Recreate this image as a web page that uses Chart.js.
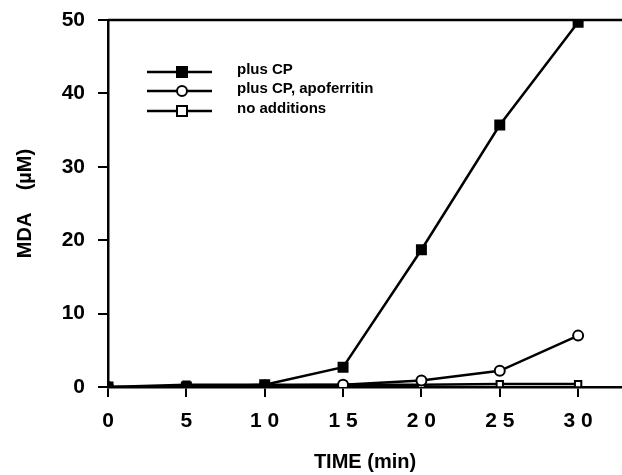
<!DOCTYPE html>
<html>
<head>
<meta charset="utf-8">
<script src="https://cdn.jsdelivr.net/npm/chart.js@4"></script>
<style>
  html, body { margin: 0; padding: 0; background: #fff; }
  #wrap { width: 622px; height: 475px; }
</style>
</head>
<body>
<div id="wrap"><canvas id="mdaCanvas" width="622" height="475"></canvas></div>
<script>
const times = [0, 5, 10, 15, 20, 25, 30]
const plusCP = [0, 0, 0.3, 2.7, 18.7, 35.7, 49.7]
const plusCPApo = [0, 0, 0.2, 0.3, 0.9, 2.2, 7.0]
const noAdditions = [0, 0.3, 0.3, 0.3, 0.3, 0.4, 0.4]
const seriesNames = ["plus CP", "plus CP, apoferritin", "no additions"]

const toPoints = (vals) => vals.map((v, i) => ({ x: times[i], y: v }))

// legend drawn inside the plot + the top frame line
const extras = {
  id: "extras",
  afterDatasetsDraw(chart) {
    const ctx = chart.ctx
    const area = chart.chartArea
    ctx.save()
    ctx.strokeStyle = "#000"
    ctx.lineWidth = 2.5
    ctx.beginPath()
    ctx.moveTo(area.left, area.top)
    ctx.lineTo(area.right, area.top)
    ctx.stroke()

    const rows = [72, 91, 111]
    chart.data.datasets.forEach((ds, i) => {
      const y = rows[i]
      ctx.strokeStyle = "#000"
      ctx.lineWidth = 2.5
      ctx.beginPath()
      ctx.moveTo(147, y)
      ctx.lineTo(212, y)
      ctx.stroke()
      ctx.lineWidth = 2
      ctx.fillStyle = ds.pointBackgroundColor
      if (ds.pointStyle === "circle") {
        ctx.beginPath()
        ctx.arc(182, y, 5, 0, Math.PI * 2)
        ctx.fill()
        ctx.stroke()
      } else {
        ctx.fillRect(177, y - 5, 10, 10)
        ctx.strokeRect(177, y - 5, 10, 10)
      }
      ctx.fillStyle = "#000"
      ctx.font = "bold 15px 'Liberation Sans', Arial, sans-serif"
      ctx.textBaseline = "middle"
      ctx.fillText(ds.label, 237, y - 2)
    })
    ctx.restore()
  }
}

const tickFont = { family: "'Liberation Sans', Arial, sans-serif", size: 21, weight: "bold" }

new Chart(document.getElementById("mdaCanvas"), {
  type: "line",
  data: {
    datasets: [
      {
        label: seriesNames[0],
        data: toPoints(plusCP),
        borderColor: "#000",
        borderWidth: 2.5,
        pointStyle: "rect",
        pointRadius: 6,
        pointBackgroundColor: "#000",
        pointBorderColor: "#000"
      },
      {
        label: seriesNames[1],
        data: toPoints(plusCPApo),
        borderColor: "#000",
        borderWidth: 2.5,
        pointStyle: "circle",
        pointRadius: 5,
        pointBorderWidth: 2,
        pointBackgroundColor: "#fff",
        pointBorderColor: "#000"
      },
      {
        label: seriesNames[2],
        data: toPoints(noAdditions),
        borderColor: "#000",
        borderWidth: 2.5,
        pointStyle: "rect",
        pointRadius: 4.5,
        pointBorderWidth: 2,
        pointBackgroundColor: "#fff",
        pointBorderColor: "#000"
      }
    ]
  },
  options: {
    responsive: false,
    animation: false,
    layout: { autoPadding: false, padding: { top: 20, right: 0, left: 0, bottom: 0 } },
    plugins: { legend: { display: false }, tooltip: { enabled: false } },
    scales: {
      x: {
        type: "linear",
        min: 0,
        max: 32.8,
        afterFit: (s) => { s.height = 88; s.paddingRight = 0; s.paddingLeft = 0 },
        border: { color: "#000", width: 2.5 },
        grid: { drawOnChartArea: false, drawTicks: true, tickLength: 10, color: "#000", lineWidth: 2 },
        ticks: {
          stepSize: 5,
          includeBounds: false,
          color: "#000",
          font: tickFont,
          padding: 12,
          maxRotation: 0,
          callback: (v) => String(v).split("").join(" ")
        },
        title: {
          display: true,
          text: "TIME (min)",
          color: "#000",
          font: { ...tickFont, size: 20 },
          padding: { top: 4, bottom: 1 }
        }
      },
      y: {
        min: 0,
        max: 50,
        afterFit: (s) => { s.width = 108; s.paddingTop = 0; s.paddingBottom = 0 },
        border: { color: "#000", width: 2.5 },
        grid: { drawOnChartArea: false, drawTicks: true, tickLength: 10, color: "#000", lineWidth: 2 },
        ticks: { stepSize: 10, color: "#000", font: tickFont, padding: 13 },
        title: {
          display: true,
          text: "MDA    (\u00b5M)",
          color: "#000",
          font: { ...tickFont, size: 20 },
          padding: { top: 13, bottom: 0 }
        }
      }
    }
  },
  plugins: [extras]
})
</script>
</body>
</html>
